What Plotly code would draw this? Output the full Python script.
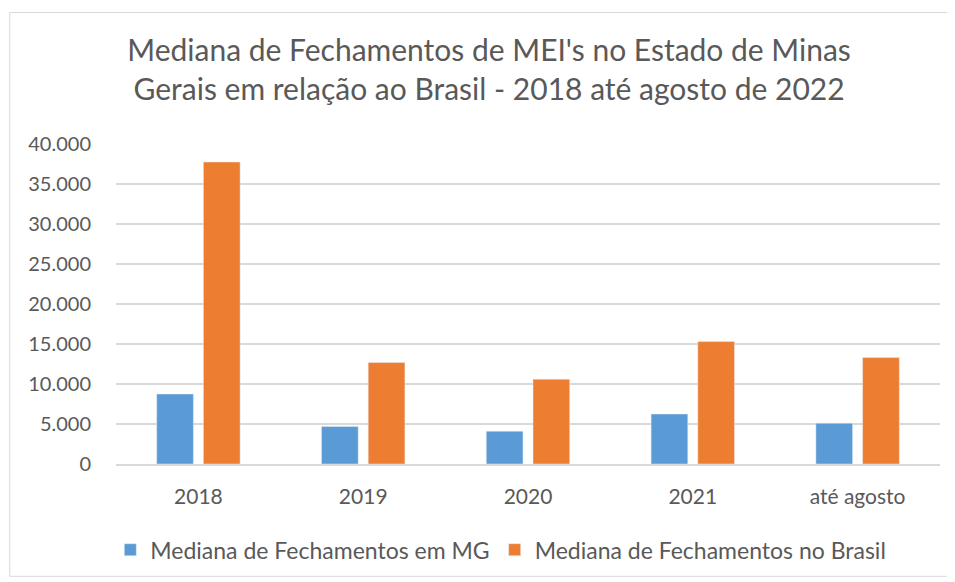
import plotly.graph_objects as go

CATEGORIES = ["2018", "2019", "2020", "2021", "até agosto"]
MG_VALUES = [8750, 4700, 4100, 6250, 5100]
BRASIL_VALUES = [37750, 12700, 10600, 15300, 13300]

BLUE = "#5B9BD5"
ORANGE = "#ED7D31"
GREY_TEXT = "#595959"
GRID = "#D9D9D9"
FONT = "Lato, Carlito, 'Open Sans', sans-serif"

fig = go.Figure()
fig.add_trace(go.Bar(name="Mediana de Fechamentos em MG", x=CATEGORIES, y=MG_VALUES,
                     marker_color=BLUE))
fig.add_trace(go.Bar(name="Mediana de Fechamentos no Brasil", x=CATEGORIES, y=BRASIL_VALUES,
                     marker_color=ORANGE))

# page has an 8px body margin, so the figure is a bit smaller than the window
fig.update_layout(
    width=947, height=574,
    margin={"l": 108, "r": 15, "t": 136, "b": 117},
    paper_bgcolor="white", plot_bgcolor="white",
    font={"family": FONT, "color": GREY_TEXT, "size": 20},
    separators=",.",
    barmode="group", bargap=0.433, bargroupgap=0.214,
    title={"text": "Mediana de Fechamentos de MEI's no Estado de Minas<br>Gerais em relação ao Brasil - 2018 até agosto de 2022",
           "x": 0.508, "xanchor": "center", "y": 0.908, "yanchor": "middle",
           "font": {"size": 30, "color": GREY_TEXT}},
    legend={"orientation": "h", "x": 0.467, "xanchor": "center", "y": -0.264, "yanchor": "middle",
            "font": {"size": 23}},
    showlegend=True,
)
fig.update_yaxes(range=[0, 40000], dtick=5000, tickformat=",d", showgrid=True,
                 gridcolor=GRID, gridwidth=1.5, zeroline=False, showline=False,
                 ticks="", ticklabelstandoff=24, tickfont={"size": 20})
fig.update_xaxes(showline=True, linecolor=GRID, linewidth=1.5, ticks="",
                 ticklabelstandoff=13, tickfont={"size": 21})

# border round the chart area
fig.add_shape(type="rect", xref="paper", yref="paper",
              x0=-0.129, x1=1.016, y0=-0.351, y1=1.411,
              line={"color": GRID, "width": 1}, fillcolor="rgba(0,0,0,0)")

fig.write_html("out.html")
